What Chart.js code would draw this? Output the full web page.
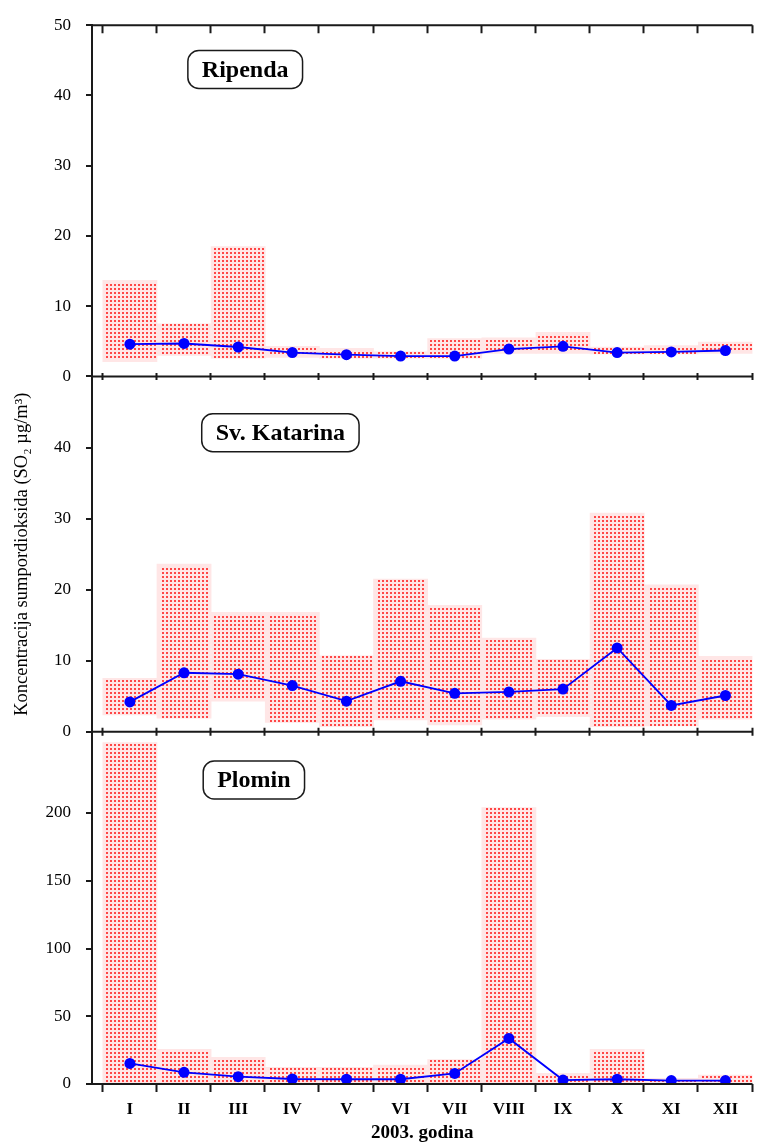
<!DOCTYPE html>
<html>
<head>
<meta charset="utf-8">
<title>Koncentracija SO2 - 2003</title>
<script src="https://cdn.jsdelivr.net/npm/chart.js@4.4.1/dist/chart.umd.min.js"></script>
<style>
  html, body { margin: 0; padding: 0; background: #fff; }
  #wrap { position: relative; width: 758px; height: 1144px; overflow: hidden; }
  #wrap canvas { position: absolute; left: 0; top: 0; }
</style>
</head>
<body>
<div id="wrap">
  <canvas id="ripenda" width="758" height="1144"></canvas>
  <canvas id="katarina" width="758" height="1144"></canvas>
  <canvas id="plomin" width="758" height="1144"></canvas>
</div>
<script>
// ============================================
// DATA (monthly min / max / mean, SO2 ug/m3)
// ============================================
const months = ['I', 'II', 'III', 'IV', 'V', 'VI', 'VII', 'VIII', 'IX', 'X', 'XI', 'XII'];

const ripendaMin  = [2.1, 3.0, 2.6, 2.7, 2.6, 2.6, 2.6, 3.3, 3.3, 3.2, 3.2, 3.3];
const ripendaMax  = [13.7, 7.5, 18.5, 4.3, 4.0, 3.5, 5.4, 5.5, 6.3, 4.2, 4.4, 4.9];
const ripendaMean = [4.6, 4.7, 4.2, 3.4, 3.1, 2.9, 2.9, 3.9, 4.3, 3.4, 3.5, 3.7];

const katarinaMin  = [2.35, 1.9, 4.3, 1.3, 0.7, 1.65, 0.95, 1.75, 2.1, 0.7, 0.8, 1.75];
const katarinaMax  = [7.5, 23.6, 16.8, 16.8, 10.7, 21.5, 17.8, 13.2, 10.2, 30.8, 20.7, 10.6];
const katarinaMean = [4.2, 8.3, 8.1, 6.5, 4.3, 7.1, 5.4, 5.6, 6.0, 11.8, 3.7, 5.1];

const plominMin  = [1, 1, 1, 1, 1, 1, 1, 1, 1, 1, 1, 1];
const plominMax  = [252, 25.5, 19.6, 12.3, 12.3, 14, 18.1, 204, 7.8, 25.5, 4.2, 6.6];
const plominMean = [15.2, 8.6, 5.4, 3.7, 3.5, 3.5, 7.8, 33.6, 2.9, 3.5, 2.5, 2.5];

const topTicks = [0, 10, 20, 30, 40, 50];
const midTicks = [0, 10, 20, 30, 40];
const plominTicks = [0, 50, 100, 150, 200];

// ============================================
// STYLE HELPERS
// ============================================
const SERIF = '"Liberation Serif", "Times New Roman", serif';
const INK = '#1a1a1a';
Chart.defaults.font.family = SERIF;
Chart.defaults.color = '#000';

// red dot stipple drawn over every range bar (2x2 dots on a 4px grid)
const stipple = {
    id: 'stipple',
    afterDatasetDraw(chart, args) {
        const meta = args.meta;
        if (meta.type !== 'bar') return;
        const ctx = chart.ctx;
        ctx.save();
        ctx.fillStyle = 'rgb(255, 70, 70)';
        meta.data.forEach(bar => {
            const { x, y, base, width } = bar.getProps(['x', 'y', 'base', 'width'], true);
            const left = x - width / 2, right = x + width / 2;
            const top = Math.min(y, base), bottom = Math.max(y, base);
            for (let py = Math.ceil(top / 4) * 4; py + 2 <= bottom; py += 4) {
                for (let px = Math.ceil(left / 4) * 4 + 2; px + 2 <= right; px += 4) {
                    ctx.fillRect(px, py, 2, 2);
                }
            }
        });
        ctx.restore();
    }
};

// horizontal frame lines with month boundary ticks
const panelFrame = {
    id: 'panelFrame',
    afterDatasetsDraw(chart, args, opts) {
        const { ctx, chartArea: a, scales: { x } } = chart;
        ctx.save();
        ctx.strokeStyle = INK;
        ctx.lineWidth = 2;
        const edge = (y, up, down) => {
            ctx.beginPath();
            ctx.moveTo(a.left, y);
            ctx.lineTo(a.right, y);
            for (let k = 0; k <= months.length; k++) {
                const px = Math.round(x.getPixelForValue(k)) - 0.5;
                ctx.moveTo(px, y - up);
                ctx.lineTo(px, y + down);
            }
            ctx.stroke();
        };
        if (opts.top) edge(a.top, 0, 8);
        edge(a.bottom, opts.up, opts.down);
        ctx.restore();
    }
};

// rounded station name box
const stationLabel = {
    id: 'stationLabel',
    afterDatasetsDraw(chart, args, opts) {
        if (!opts.text) return;
        const { ctx, scales: { x, y } } = chart;
        const cx = x.getPixelForValue(opts.x);
        const cy = y.getPixelForValue(opts.y);
        ctx.save();
        ctx.font = 'bold 24px ' + SERIF;
        const w = ctx.measureText(opts.text).width + 28;
        const h = 38;
        ctx.beginPath();
        ctx.roundRect(cx - w / 2, cy - h / 2, w, h, 11);
        ctx.fillStyle = '#fff';
        ctx.fill();
        ctx.lineWidth = 1.5;
        ctx.strokeStyle = INK;
        ctx.stroke();
        ctx.fillStyle = '#000';
        ctx.textAlign = 'center';
        ctx.textBaseline = 'middle';
        ctx.fillText(opts.text, cx, cy + 1);
        ctx.restore();
    }
};

// ============================================
// PANEL BUILDER
// ============================================
function panel(id, p) {
    const rangeData = months.map((m, i) => ({ x: i + 0.5, y: [p.min[i], p.max[i]] }));
    const meanData = months.map((m, i) => ({ x: i + 0.5, y: p.mean[i] }));

    return new Chart(document.getElementById(id), {
        type: 'bar',
        data: {
            datasets: [{
                type: 'line',
                data: meanData,
                borderColor: '#0000ff',
                backgroundColor: '#0000ff',
                borderWidth: 1.8,
                pointRadius: 5.5,
                pointBorderWidth: 0,
                tension: 0,
                order: 0
            }, {
                type: 'bar',
                data: rangeData,
                backgroundColor: 'rgb(255, 230, 230)',
                borderWidth: 0,
                barPercentage: 1,
                categoryPercentage: 1,
                order: 1
            }]
        },
        options: {
            responsive: false,
            animation: false,
            events: [],
            layout: { padding: { top: p.padTop, bottom: p.padBottom, left: 0, right: 1 } },
            plugins: {
                legend: { display: false },
                tooltip: { enabled: false },
                panelFrame: p.frame,
                stationLabel: p.label
            },
            scales: {
                x: {
                    type: 'linear',
                    min: -0.2,
                    max: 12,
                    offset: false,
                    display: p.showX,
                    afterBuildTicks: (s) => { s.ticks = months.map((m, i) => ({ value: i + 0.5 })); },
                    afterFit: (s) => { if (p.showX) s.height = 60; },
                    grid: { display: false },
                    border: { display: false },
                    ticks: {
                        autoSkip: false,
                        maxRotation: 0,
                        padding: 7,
                        color: '#000',
                        font: { size: 17, weight: 'bold' },
                        callback: (v, i) => months[i]
                    },
                    title: {
                        display: true,
                        text: '2003. godina',
                        color: '#000',
                        font: { size: 19, weight: 'bold' },
                        padding: { top: 0, bottom: 0 }
                    }
                },
                y: {
                    min: 0,
                    max: p.yMax,
                    afterBuildTicks: (s) => { s.ticks = p.yTicks.map(v => ({ value: v })); },
                    afterFit: (s) => { s.width = 92; },
                    grid: {
                        drawOnChartArea: false,
                        drawTicks: true,
                        tickLength: 6,
                        color: INK,
                        lineWidth: 2
                    },
                    border: { display: true, color: INK, width: 2 },
                    ticks: {
                        padding: 15,
                        color: '#000',
                        font: { size: 17 }
                    },
                    title: {
                        display: !!p.yTitle,
                        text: p.yTitle || '',
                        color: '#000',
                        font: { size: 18.5 },
                        padding: { top: 11, bottom: 0 }
                    }
                }
            }
        },
        plugins: [stipple, panelFrame, stationLabel]
    });
}

// ============================================
// THREE STACKED PANELS
// ============================================
panel('ripenda', {
    min: ripendaMin, max: ripendaMax, mean: ripendaMean,
    yMax: 50, yTicks: topTicks,
    padTop: 22, padBottom: 767.5, showX: false,
    frame: { top: true, up: 3.5, down: 3.5 },
    label: { text: 'Ripenda', x: 2.63, y: 43.7 }
});

panel('katarina', {
    min: katarinaMin, max: katarinaMax, mean: katarinaMean,
    yMax: 50, yTicks: midTicks,
    padTop: 376.7, padBottom: 412.3, showX: false,
    yTitle: 'Koncentracija sumpordioksida (SO\u2082 \u00b5g/m\u00b3)',
    frame: { top: false, up: 4, down: 4 },
    label: { text: 'Sv. Katarina', x: 3.28, y: 42.1 }
});

panel('plomin', {
    min: plominMin, max: plominMax, mean: plominMean,
    yMax: 260, yTicks: plominTicks,
    padTop: 731.7, padBottom: 0, showX: true,
    frame: { top: false, up: 0, down: 8 },
    label: { text: 'Plomin', x: 2.79, y: 224.4 }
});
</script>
</body>
</html>
